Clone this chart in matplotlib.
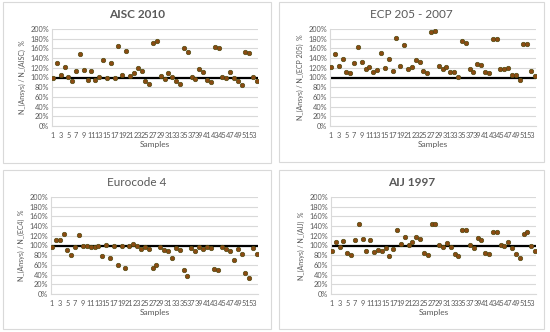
import numpy as np
import matplotlib
matplotlib.use("Agg")
import matplotlib.pyplot as plt
from matplotlib.patches import Rectangle

plt.rcParams['font.family'] = ['Lato', 'DejaVu Sans']

samples = np.arange(1, 55)

aisc = [100, 130, 105, 122, 101, 92, 114, 148, 116, 94,
        113, 95, 102, 136, 99, 130, 98, 165, 105, 154,
        103, 110, 120, 114, 92, 87, 172, 176, 103, 97,
        110, 101, 92, 87, 160, 153, 101, 97, 117, 112,
        94, 91, 162, 160, 101, 100, 112, 100, 92, 84,
        153, 150, 101, 93]

ecp = [122, 148, 124, 139, 112, 110, 130, 162, 131, 117,
       122, 112, 115, 150, 119, 139, 113, 182, 123, 168,
       117, 122, 137, 131, 114, 109, 194, 196, 123, 118,
       122, 111, 111, 102, 176, 172, 118, 111, 128, 125,
       112, 110, 179, 179, 117, 117, 119, 105, 105, 94,
       170, 170, 113, 103]

ec4 = [97, 111, 111, 124, 90, 81, 96, 122, 99, 99,
       96, 97, 100, 79, 101, 74, 99, 59, 100, 53,
       98, 104, 99, 92, 97, 92, 54, 59, 97, 90,
       89, 75, 94, 90, 50, 37, 95, 89, 96, 92,
       96, 95, 52, 50, 96, 92, 88, 71, 92, 83,
       43, 32, 94, 83]

aij = [88, 108, 97, 110, 85, 80, 112, 145, 114, 88,
       111, 86, 90, 89, 95, 78, 92, 131, 103, 118,
       102, 108, 118, 113, 85, 80, 144, 144, 101, 97,
       106, 97, 83, 79, 131, 131, 101, 95, 116, 112,
       85, 83, 127, 128, 101, 100, 108, 95, 82, 74,
       123, 127, 99, 89]

titles = ["AISC 2010", "ECP 205 - 2007", "Eurocode 4", "AIJ 1997"]
ylabels = ["N_(Ansys) / N_(AISC)  %", "N_(Ansys) / N_(ECP 205)  %",
           "N_(Ansys) / N_(EC4)  %", "N_(Ansys) / N_(AIJ)  %"]
series = [aisc, ecp, ec4, aij]

W, H = 550, 332
fig = plt.figure(figsize=(5.5, 3.32), dpi=100)

# panel boxes and plot areas, in pixels (x0, y0_top, x1, y1_bottom)
boxes = [(3, 2, 271, 163), (279, 2, 544, 162), (3, 170, 271, 329), (279, 170, 544, 329)]
areas = [(52, 29, 258, 126), (330, 29, 536, 126), (51, 197, 258, 294), (331, 197, 536, 294)]
title_y = [14, 14, 182, 182]

for i in range(4):
    bx0, by0, bx1, by1 = boxes[i]
    fig.patches.append(Rectangle((bx0 / W, 1 - by1 / H), (bx1 - bx0) / W, (by1 - by0) / H,
                                 transform=fig.transFigure, fill=False,
                                 edgecolor='#d9d9d9', linewidth=0.8))
    x0, y0, x1, y1 = areas[i]
    ax = fig.add_axes([x0 / W, 1 - y1 / H, (x1 - x0) / W, (y1 - y0) / H])
    ax.set_ylim(0, 200)
    ax.set_xlim(0.75, 54.25)
    ax.set_yticks(np.arange(0, 201, 20))
    ax.set_yticklabels([f"{v}%" for v in range(0, 201, 20)])
    ax.set_xticks(samples[::2])
    ax.set_xticklabels([str(s) for s in samples[::2]])
    ax.tick_params(axis='both', length=0, labelsize=5.3, colors='#595959', pad=2)
    ax.tick_params(axis='x', pad=4)
    ax.grid(axis='y', color='#d9d9d9', linewidth=0.8)
    ax.set_axisbelow(True)
    for s in ['top', 'right']:
        ax.spines[s].set_visible(False)
    for s in ['left', 'bottom']:
        ax.spines[s].set_color('#d9d9d9')
        ax.spines[s].set_linewidth(0.8)
    ax.axhline(100, color='black', linewidth=1.6, zorder=2)
    ax.plot(samples, series[i], linestyle='none', marker='o', markersize=3.2,
            markerfacecolor='#8b4a12', markeredgecolor='#4f4a10',
            markeredgewidth=0.5, zorder=3)
    ax.set_xlabel("Samples", fontsize=6, color='#595959', labelpad=2)
    ax.set_ylabel(ylabels[i], fontsize=5, color='#595959', labelpad=3)
    cx = (bx0 + bx1) / 2
    fig.text(cx / W, 1 - title_y[i] / H, titles[i], ha='center', va='center',
             fontsize=8.5, color='#595959', fontweight='bold' if i in (0, 3) else 'normal')

fig.savefig("out.png", dpi=100)
